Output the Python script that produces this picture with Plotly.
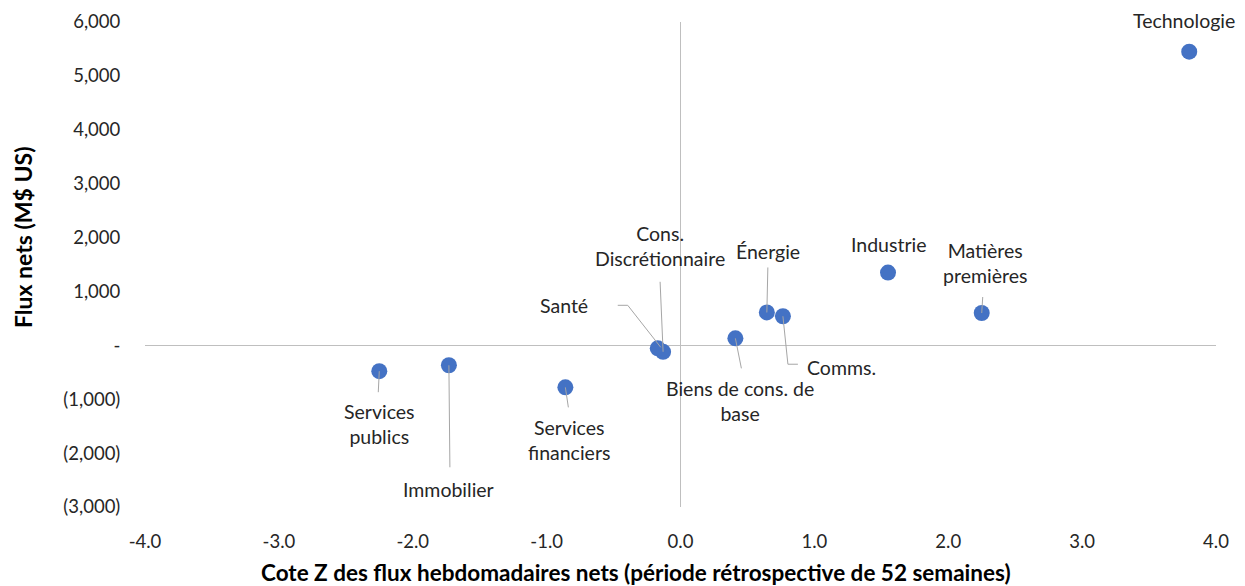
import plotly.graph_objects as go

# ---------------- data ----------------
sectors = ["Technologie", "Industrie", "Matières<br>premières", "Énergie", "Comms.",
           "Biens de cons. de<br>base", "Cons.<br>Discrétionnaire", "Santé",
           "Services<br>financiers", "Immobilier", "Services<br>publics"]
z_scores = [3.80, 1.55, 2.25, 0.645, 0.765, 0.41, -0.13, -0.17, -0.86, -1.73, -2.25]
net_flows = [5450, 1350, 600, 610, 540, 130, -120, -55, -780, -370, -480]

y_tick_vals = [6000, 5000, 4000, 3000, 2000, 1000, 0, -1000, -2000, -3000]
y_tick_text = ["6,000", "5,000", "4,000", "3,000", "2,000", "1,000", "-",
               "(1,000)", "(2,000)", "(3,000)"]
x_tick_vals = [-4, -3, -2, -1, 0, 1, 2, 3, 4]
x_tick_text = ["-4.0", "-3.0", "-2.0", "-1.0", "0.0", "1.0", "2.0", "3.0", "4.0"]

x_title = "<b>Cote Z des flux hebdomadaires nets (période rétrospective de 52 semaines)</b>"
y_title = "<b>Flux nets (M$ US)</b>"

# ---------------- layout constants ----------------
OFF = 8                      # page body margin
W, H = 1245 - OFF, 586 - OFF
# plot area in page pixels: x 145..1216, y 22..507
ML = 145 - OFF
MT = 22 - OFF
MR = W - (1216 - OFF)
MB = H - (507 - OFF)
X_RANGE = [-4, 4]
Y_RANGE = [-3000, 6000]
PW = W - ML - MR
PH = H - MT - MB
DX = (X_RANGE[1] - X_RANGE[0]) / PW   # data units per px
DY = (Y_RANGE[1] - Y_RANGE[0]) / PH


def paper_x(page_px):
    return (page_px - OFF - ML) / PW


def paper_y(page_py):
    return (H - MB - (page_py - OFF)) / PH


# label offsets in pixels (dx right, dy down) relative to the point, anchor
label_pos = {
    "Technologie": (-5, -31, "center"),
    "Industrie": (1, -28, "center"),
    "Matières<br>premières": (3, -50, "center"),
    "Énergie": (1, -61, "center"),
    "Comms.": (22, 51, "left"),
    "Biens de cons. de<br>base": (5, 63, "center"),
    "Cons.<br>Discrétionnaire": (-3, -106, "center"),
    "Santé": (-94, -43, "center"),
    "Services<br>financiers": (4, 53, "center"),
    "Immobilier": (0, 124, "center"),
    "Services<br>publics": (0, 53, "center"),
}
# leader line paths in pixel offsets relative to the point
leaders = {
    "Matières<br>premières": [(0, 0), (1, -16)],
    "Énergie": [(0, 0), (1, -45)],
    "Comms.": [(0, 0), (5, 48), (15, 48)],
    "Biens de cons. de<br>base": [(0, 0), (6, 30)],
    "Cons.<br>Discrétionnaire": [(0, 0), (-3, -70)],
    "Santé": [(3, -1), (-30, -43), (-40, -43)],
    "Services<br>financiers": [(0, 0), (3, 20)],
    "Immobilier": [(0, 0), (1, 102)],
    "Services<br>publics": [(0, 0), (-1, 21)],
}

FONT = "Lato, 'Open Sans', sans-serif"
TXT = "#262626"

fig = go.Figure()
fig.add_trace(go.Scatter(
    x=z_scores, y=net_flows, mode="markers",
    marker=dict(size=16, color="#4472C4", line=dict(width=0)),
    hoverinfo="skip", showlegend=False))

for name, xv, yv in zip(sectors, z_scores, net_flows):
    if name in leaders:
        pts = leaders[name]
        fig.add_trace(go.Scatter(
            x=[xv + p[0] * DX for p in pts],
            y=[yv - p[1] * DY for p in pts],
            mode="lines", line=dict(color="#a6a6a6", width=1),
            hoverinfo="skip", showlegend=False))
    dx, dy, anc = label_pos[name]
    fig.add_annotation(x=xv, y=yv, text=name, showarrow=False,
                       xshift=dx, yshift=-dy, xanchor=anc, yanchor="middle",
                       font=dict(family=FONT, size=19.5, color=TXT))

# axis titles
fig.add_annotation(xref="paper", yref="paper", x=paper_x(636), y=paper_y(572),
                   text=x_title, showarrow=False, xanchor="center", yanchor="middle",
                   font=dict(family=FONT, size=22.5, color="#000000"))
fig.add_annotation(xref="paper", yref="paper", x=paper_x(23), y=paper_y(237),
                   text=y_title, showarrow=False, xanchor="center", yanchor="middle",
                   textangle=-90, font=dict(family=FONT, size=23, color="#000000"))

fig.update_layout(
    width=W, height=H,
    margin=dict(l=ML, r=MR, t=MT, b=MB),
    paper_bgcolor="white", plot_bgcolor="white",
    font=dict(family=FONT, color=TXT),
    xaxis=dict(range=X_RANGE, tickvals=x_tick_vals, ticktext=x_tick_text,
               automargin=False,
               showgrid=False, zeroline=True, zerolinecolor="#bfbfbf", zerolinewidth=1,
               showline=False, ticks="outside", ticklen=18, tickcolor="rgba(0,0,0,0)",
               tickfont=dict(size=18.5, color=TXT)),
    yaxis=dict(range=Y_RANGE, tickvals=y_tick_vals, ticktext=y_tick_text,
               automargin=False,
               showgrid=False, zeroline=True, zerolinecolor="#bfbfbf", zerolinewidth=1,
               showline=False, ticks="outside", ticklen=20, tickcolor="rgba(0,0,0,0)",
               tickfont=dict(size=18.5, color=TXT)),
)

fig.write_html("out.html")
